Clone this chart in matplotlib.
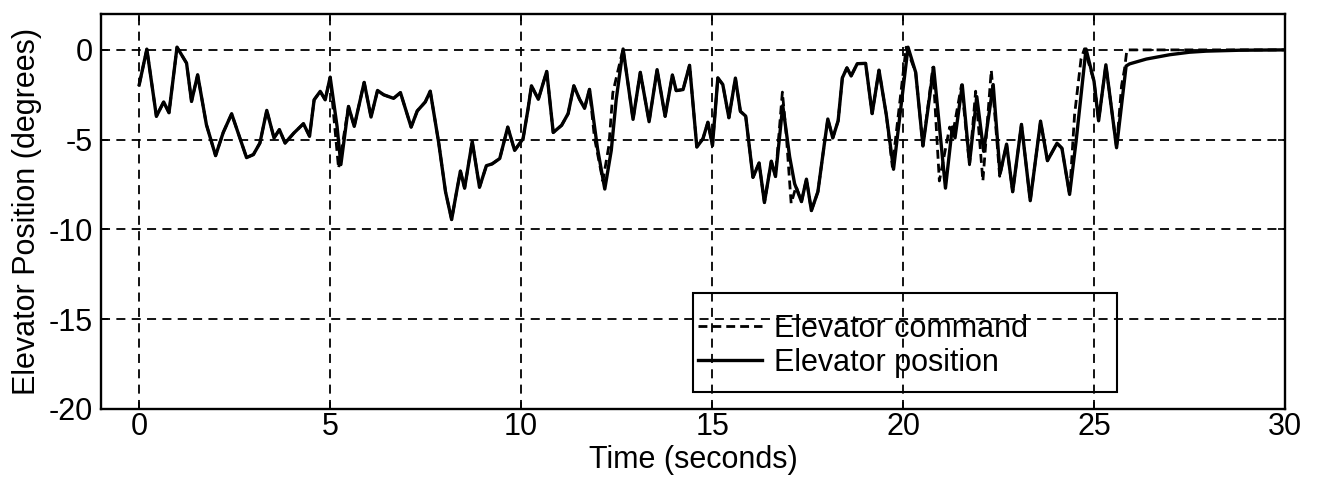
import matplotlib
matplotlib.use("Agg")
import matplotlib.pyplot as plt
from matplotlib.patches import Rectangle

plt.rcParams['font.family'] = ['Liberation Sans', 'DejaVu Sans']
plt.rcParams['axes.unicode_minus'] = False

# elevator position (solid)
pos_t = [0.0, 0.2, 0.45, 0.64, 0.78, 0.99, 1.24, 1.37, 1.53, 1.76, 2.0, 2.2, 2.42, 2.59,
         2.81, 2.99, 3.16, 3.34, 3.53, 3.67, 3.82, 4.05, 4.3, 4.46, 4.58, 4.74, 4.87, 5.0,
         5.18, 5.28, 5.48, 5.63, 5.89, 6.07, 6.24, 6.4, 6.57, 6.66, 6.84, 7.12, 7.28, 7.49,
         7.62, 7.84, 8.02, 8.18, 8.31, 8.41, 8.52, 8.72, 8.91, 9.09, 9.24, 9.44, 9.65, 9.83,
         10.05, 10.18, 10.27, 10.45, 10.67, 10.84, 11.06, 11.23, 11.38, 11.53, 11.66, 11.79,
         12.0, 12.19, 12.36, 12.49, 12.67, 12.93, 13.12, 13.35, 13.56, 13.77, 13.96, 14.06,
         14.24, 14.41, 14.6, 14.76, 14.89, 15.01, 15.15, 15.28, 15.44, 15.61, 15.74, 15.88,
         16.07, 16.23, 16.37, 16.55, 16.66, 16.85, 17.03, 17.16, 17.34, 17.47, 17.6, 17.77,
         17.94, 18.03, 18.16, 18.3, 18.41, 18.53, 18.64, 18.8, 19.02, 19.19, 19.37, 19.56,
         19.75, 19.99, 20.13, 20.33, 20.52, 20.8, 21.11, 21.29, 21.36, 21.55, 21.74, 21.93,
         22.11, 22.36, 22.54, 22.71, 22.87, 23.1, 23.33, 23.6, 23.78, 24.03, 24.16, 24.36,
         24.53, 24.79, 25.0, 25.12, 25.31, 25.59, 25.75, 25.84, 25.93, 26.37, 26.98, 27.5,
         27.94, 28.8, 30.0]
pos_y = [-1.94, 0.04, -3.7, -2.9, -3.5, 0.15, -0.74, -2.87, -1.39, -4.17, -5.89, -4.6, -3.56, -4.63,
         -6.0, -5.83, -5.19, -3.37, -4.91, -4.44, -5.19, -4.63, -4.11, -4.81, -2.78, -2.31, -2.78, -1.52,
         -4.26, -6.39, -3.15, -4.26, -1.81, -3.74, -2.26, -2.5, -2.63, -2.7, -2.38, -4.3, -3.4, -2.9,
         -2.3, -5.15, -7.9, -9.45, -7.9, -6.75, -7.7, -5.1, -7.65, -6.45, -6.35, -6.05, -4.3, -5.6,
         -4.95, -3.3, -2.0, -2.75, -1.2, -4.6, -4.2, -3.55, -2.0, -2.75, -3.25, -2.2,
         -5.5, -7.75, -5.6, -2.75, 0.05, -3.87, -1.25, -4.0, -1.1, -3.7, -1.4, -2.27,
         -2.21, -0.86, -5.41, -4.95, -4.03, -5.33, -1.56, -1.93, -3.78, -1.57, -3.42, -3.69,
         -7.1, -6.3, -8.5, -6.2, -7.05, -3.1, -5.95, -7.45, -8.45, -7.2, -8.95, -7.9,
         -5.22, -3.85, -4.9, -3.95, -1.56, -1.0, -1.45, -0.77, -0.75, -3.55, -1.13, -3.6,
         -6.65, -2.34, 0.15, -1.25, -5.35, -0.97, -7.7, -4.3, -4.9, -1.95, -6.3, -2.6,
         -5.65, -1.93, -6.9, -5.25, -7.9, -4.15, -8.4, -3.97, -6.17, -5.2, -5.48, -8.05,
         -5.1, 0.05, -1.75, -3.95, -0.83, -5.45, -2.52, -0.9, -0.78, -0.51, -0.27, -0.13,
         -0.07, -0.02, 0.0]

# elevator command (dashed), leads the position in places
cmd_t = [0.0, 0.2, 0.45, 0.64, 0.78, 0.99, 1.24, 1.37, 1.53, 1.76, 2.0, 2.2, 2.42, 2.59,
         2.81, 2.99, 3.16, 3.34, 3.53, 3.67, 3.82, 4.05, 4.3, 4.46, 4.58, 4.74, 4.87, 5.0,
         5.22, 5.48, 5.63, 5.89, 6.07, 6.24, 6.4, 6.57, 6.66, 6.84, 7.12, 7.28, 7.49,
         7.62, 7.84, 8.02, 8.18, 8.31, 8.41, 8.52, 8.72, 8.91, 9.09, 9.24, 9.44, 9.65, 9.83,
         10.05, 10.18, 10.27, 10.45, 10.67, 10.84, 11.06, 11.23, 11.38, 11.53, 11.66, 11.79,
         11.92, 12.14, 12.3, 12.4, 12.53, 12.67, 12.93, 13.12, 13.35, 13.56, 13.77, 13.96, 14.06,
         14.24, 14.41, 14.6, 14.76, 14.89, 15.01, 15.15, 15.28, 15.44, 15.61, 15.74, 15.88,
         16.07, 16.23, 16.37, 16.55, 16.66, 16.84, 16.94, 17.07, 17.2, 17.34, 17.47, 17.6, 17.77,
         17.94, 18.03, 18.16, 18.3, 18.41, 18.53, 18.64, 18.8, 19.02, 19.19, 19.37, 19.56,
         19.72, 20.08, 20.33, 20.52, 20.78, 20.95, 21.22, 21.3, 21.53, 21.74, 21.9,
         22.09, 22.31, 22.53, 22.71, 22.87, 23.1, 23.33, 23.6, 23.78, 24.03, 24.16, 24.36,
         24.49, 24.66, 24.75, 25.0, 25.12, 25.31, 25.59, 25.72, 25.8, 25.86, 30.0]
cmd_y = [-1.94, 0.04, -3.7, -2.9, -3.5, 0.15, -0.74, -2.87, -1.39, -4.17, -5.89, -4.6, -3.56, -4.63,
         -6.0, -5.83, -5.19, -3.37, -4.91, -4.44, -5.19, -4.63, -4.11, -4.81, -2.78, -2.31, -2.78, -1.52,
         -6.6, -3.15, -4.26, -1.81, -3.74, -2.26, -2.5, -2.63, -2.7, -2.38, -4.3, -3.4, -2.9,
         -2.3, -5.15, -7.9, -9.45, -7.9, -6.75, -7.7, -5.1, -7.65, -6.45, -6.35, -6.05, -4.3, -5.6,
         -4.95, -3.3, -2.0, -2.75, -1.2, -4.6, -4.2, -3.55, -2.0, -2.75, -3.25, -2.2,
         -4.9, -7.3, -5.3, -2.4, -1.2, 0.05, -3.87, -1.25, -4.0, -1.1, -3.7, -1.4, -2.27,
         -2.21, -0.86, -5.41, -4.95, -4.03, -5.33, -1.56, -1.93, -3.78, -1.57, -3.42, -3.69,
         -7.1, -6.3, -8.5, -6.2, -7.05, -2.35, -4.67, -8.55, -7.6, -8.45, -7.2, -8.95, -7.9,
         -5.22, -3.85, -4.9, -3.95, -1.56, -1.0, -1.45, -0.77, -0.75, -3.55, -1.13, -3.6,
         -6.5, 0.15, -1.25, -5.35, -0.97, -7.3, -4.3, -4.7, -1.95, -6.4, -2.3,
         -7.3, -1.13, -7.04, -5.25, -7.9, -4.15, -8.4, -3.97, -6.17, -5.2, -5.48, -8.05,
         -3.62, -0.5, 0.06, -1.75, -3.95, -0.83, -5.45, -2.0, -1.05, 0.0, 0.0]

xticks = [0, 5, 10, 15, 20, 25, 30]
yticks = [-20, -15, -10, -5, 0]

fig = plt.figure(figsize=(13.17, 4.82), dpi=100)
ax = fig.add_axes([0.0767, 0.1515, 0.899, 0.8195])

ax.plot(pos_t, pos_y, color='black', lw=2.4, label='Elevator position', zorder=3)
ax.plot(cmd_t, cmd_y, color='black', lw=2.0, linestyle=(0, (3.2, 1.8)),
        label='Elevator command', zorder=4)

ax.set_xlim(-1, 30)
ax.set_ylim(-20, 2)
ax.set_xticks(xticks)
ax.set_yticks(yticks)
ax.grid(True, color='black', lw=1.3, linestyle=(0, (5, 3.5)))
ax.tick_params(direction='in', length=5, width=1.2, top=True, right=True,
               labelsize=22)
ax.tick_params(axis='x', pad=2)
ax.tick_params(axis='y', pad=6)
for s in ax.spines.values():
    s.set_linewidth(1.7)

ax.set_xlabel('Time (seconds)', fontsize=22, labelpad=2)
ax.set_ylabel('Elevator Position (degrees)', fontsize=22)
ax.yaxis.set_label_coords(-0.05, 0.5)

h, l = ax.get_legend_handles_labels()
ax.legend(h[::-1], l[::-1], loc='upper left', bbox_to_anchor=(0.504, 0.24),
          frameon=False, fontsize=22, handlelength=2.1, handletextpad=0.4,
          labelspacing=0.12, borderpad=0, borderaxespad=0)
ax.add_patch(Rectangle((0.5, 0.043), 0.358, 0.251, transform=ax.transAxes,
                       fill=False, edgecolor='black', lw=1.5, zorder=5))

fig.savefig('out.png', dpi=100)
